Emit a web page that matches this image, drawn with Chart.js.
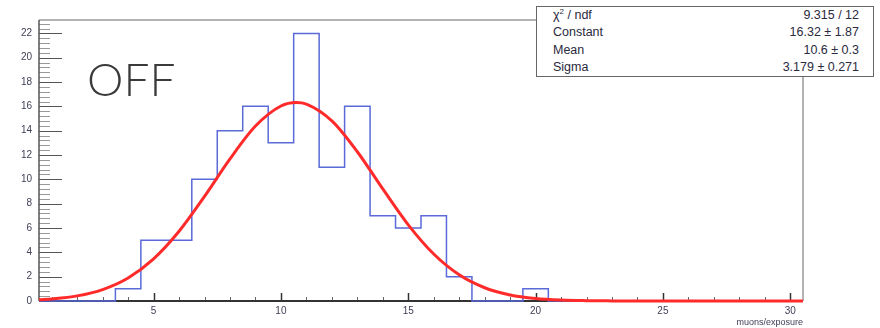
<!DOCTYPE html>
<html lang="en">
<head>
    <meta charset="UTF-8">
    <title>muons/exposure - OFF</title>
    <script src="https://cdn.jsdelivr.net/npm/chart.js"></script>
    <style>
        body { margin: 0; background: #fff; }
        #wrap { position: relative; width: 880px; height: 328px; }
        #offLabel {
            position: absolute; left: 87px; top: 56px;
            font: 300 46px Lato, sans-serif; line-height: 1; color: #3a3a3a;
        }
        #stats {
            position: absolute; left: 536px; top: 6px; width: 338px; height: 71px;
            border: 1.5px solid #666; background: #fff; box-sizing: border-box;
            padding: 0 14px 0 16px;
            font: 12.5px "Liberation Sans", Arial, sans-serif; color: #2a2a40;
        }
        #stats .row { display: flex; justify-content: space-between; line-height: 17.3px; }
        #stats sup { font-size: 8px; line-height: 0; }
    </style>
</head>
<body>
<div id="wrap">
    <canvas id="histChart" width="880" height="328"></canvas>
    <div id="offLabel">OFF</div>
    <div id="stats"></div>
</div>

<script>
    // histogram bins (edges) and contents
    const binEdges = [0.5, 1.5, 2.5, 3.5, 4.5, 5.5, 6.5, 7.5, 8.5, 9.5, 10.5, 11.5, 12.5, 13.5, 14.5, 15.5,
                      16.5, 17.5, 18.5, 19.5, 20.5, 21.5, 22.5, 23.5, 24.5, 25.5, 26.5, 27.5, 28.5, 29.5, 30.5];
    const counts = [0, 0, 0, 1, 5, 5, 10, 14, 16, 13, 22, 11, 16, 7, 6, 7, 2, 0, 0, 1,
                    0, 0, 0, 0, 0, 0, 0, 0, 0, 0];

    // gaussian fit curve
    const fitX = [0.5, 1, 2, 3, 4, 5, 6, 7, 8, 9, 10, 10.6, 11, 12, 13, 14, 15, 16, 17, 18, 19, 20,
                  21, 22, 23, 24, 25, 26, 27, 28, 29, 30, 30.5];
    const fitY = [0.105, 0.171, 0.42, 0.94, 1.89, 3.46, 5.73, 8.6, 11.68, 14.38, 16.03, 16.32, 16.19,
                  14.81, 12.27, 9.21, 6.26, 3.86, 2.15, 1.09, 0.5, 0.21, 0.08, 0.03, 0.01, 0, 0, 0, 0, 0, 0, 0, 0];

    // axes
    const xTicks = [5, 10, 15, 20, 25, 30];
    const yTicks = [0, 2, 4, 6, 8, 10, 12, 14, 16, 18, 20, 22];
    const xRange = [0.5, 30.5];
    const yRange = [0, 23.1];
    const xMinorStep = 1;
    const yMinorStep = 0.4;

    // stats box
    const statsLabels = ['χ<sup>2</sup> / ndf', 'Constant', 'Mean', 'Sigma'];
    const statsValues = ['9.315 / 12', '16.32 ± 1.87', '10.6 ± 0.3', '3.179 ± 0.271'];

    document.getElementById('stats').innerHTML = statsLabels.map((l, i) =>
        `<div class="row"><span>${l}</span><span>${statsValues[i]}</span></div>`).join('');

    // histogram outline as stepped line (each edge carries its bin's content)
    const histPoints = binEdges.map((e, i) => ({ x: e, y: counts[Math.min(i, counts.length - 1)] }));
    const fitPoints = fitX.map((x, i) => ({ x: x, y: fitY[i] }));

    // frame + inward ROOT-style ticks
    const frameTicks = {
        id: 'frameTicks',
        beforeDatasetsDraw(chart) {
            const { ctx, chartArea: a, scales: { x, y } } = chart;
            ctx.save();
            // top and right frame
            ctx.strokeStyle = '#9a9a9a';
            ctx.lineWidth = 1.5;
            ctx.beginPath();
            ctx.moveTo(a.left, a.top); ctx.lineTo(a.right, a.top); ctx.lineTo(a.right, a.bottom);
            ctx.stroke();

            // y ticks
            ctx.lineWidth = 1;
            for (let v = yRange[0]; v <= yRange[1] + 1e-6; v += yMinorStep) {
                const major = Math.abs(v / 2 - Math.round(v / 2)) < 1e-6;
                const py = Math.round(y.getPixelForValue(v)) + 0.5;
                ctx.strokeStyle = major ? '#555' : '#999';
                ctx.beginPath();
                ctx.moveTo(a.left, py); ctx.lineTo(a.left + (major ? 23 : 11), py);
                ctx.stroke();
            }
            // x ticks
            for (let v = 1; v <= 30; v += xMinorStep) {
                const major = v % 5 === 0;
                const px = Math.round(x.getPixelForValue(v)) + 0.5;
                ctx.strokeStyle = major ? '#333' : '#666';
                ctx.lineWidth = major ? 1.5 : 1;
                ctx.beginPath();
                ctx.moveTo(px, a.bottom); ctx.lineTo(px, a.bottom - (major ? 8 : 4));
                ctx.stroke();
            }

            // left and bottom axis lines
            ctx.strokeStyle = '#555';
            ctx.lineWidth = 1.5;
            ctx.beginPath();
            ctx.moveTo(a.left, a.top); ctx.lineTo(a.left, a.bottom);
            ctx.stroke();
            ctx.strokeStyle = '#333';
            ctx.lineWidth = 2;
            ctx.beginPath();
            ctx.moveTo(a.left, a.bottom); ctx.lineTo(a.right, a.bottom);
            ctx.stroke();
            ctx.restore();
        }
    };

    const tickFont = { family: '"Liberation Sans", Arial, sans-serif', size: 10 };

    new Chart(document.getElementById('histChart').getContext('2d'), {
        type: 'line',
        data: {
            datasets: [
                {
                    label: 'fit',
                    data: fitPoints,
                    borderColor: '#ff2b2b',
                    borderWidth: 3,
                    pointRadius: 0,
                    cubicInterpolationMode: 'monotone',
                    clip: 6,
                    order: 0
                },
                {
                    label: 'hist',
                    data: histPoints,
                    borderColor: '#5a6ad8',
                    borderWidth: 1.5,
                    pointRadius: 0,
                    stepped: 'before',
                    clip: 4,
                    order: 1
                }
            ]
        },
        options: {
            responsive: false,
            animation: false,
            layout: { padding: { top: 20, right: 77, left: 0, bottom: 0 } },
            plugins: { legend: { display: false }, tooltip: { enabled: false } },
            scales: {
                x: {
                    type: 'linear',
                    min: xRange[0],
                    max: xRange[1],
                    grid: { display: false, drawTicks: false },
                    border: { display: false },
                    afterBuildTicks: s => { s.ticks = xTicks.map(v => ({ value: v })); },
                    afterFit: s => { s.height = 27; },
                    ticks: { font: tickFont, color: '#404058', padding: 4, maxRotation: 0, autoSkip: false },
                    title: {
                        display: true, text: 'muons/exposure', align: 'end',
                        font: { family: '"Liberation Sans", Arial, sans-serif', size: 9 },
                        color: '#404058', padding: 0
                    }
                },
                y: {
                    type: 'linear',
                    min: yRange[0],
                    max: yRange[1],
                    grid: { display: false, drawTicks: false },
                    border: { display: false },
                    afterBuildTicks: s => { s.ticks = yTicks.map(v => ({ value: v })); },
                    afterFit: s => { s.width = 39; },
                    ticks: { font: tickFont, color: '#404058', padding: 7 }
                }
            }
        },
        plugins: [frameTicks]
    });
</script>
</body>
</html>
